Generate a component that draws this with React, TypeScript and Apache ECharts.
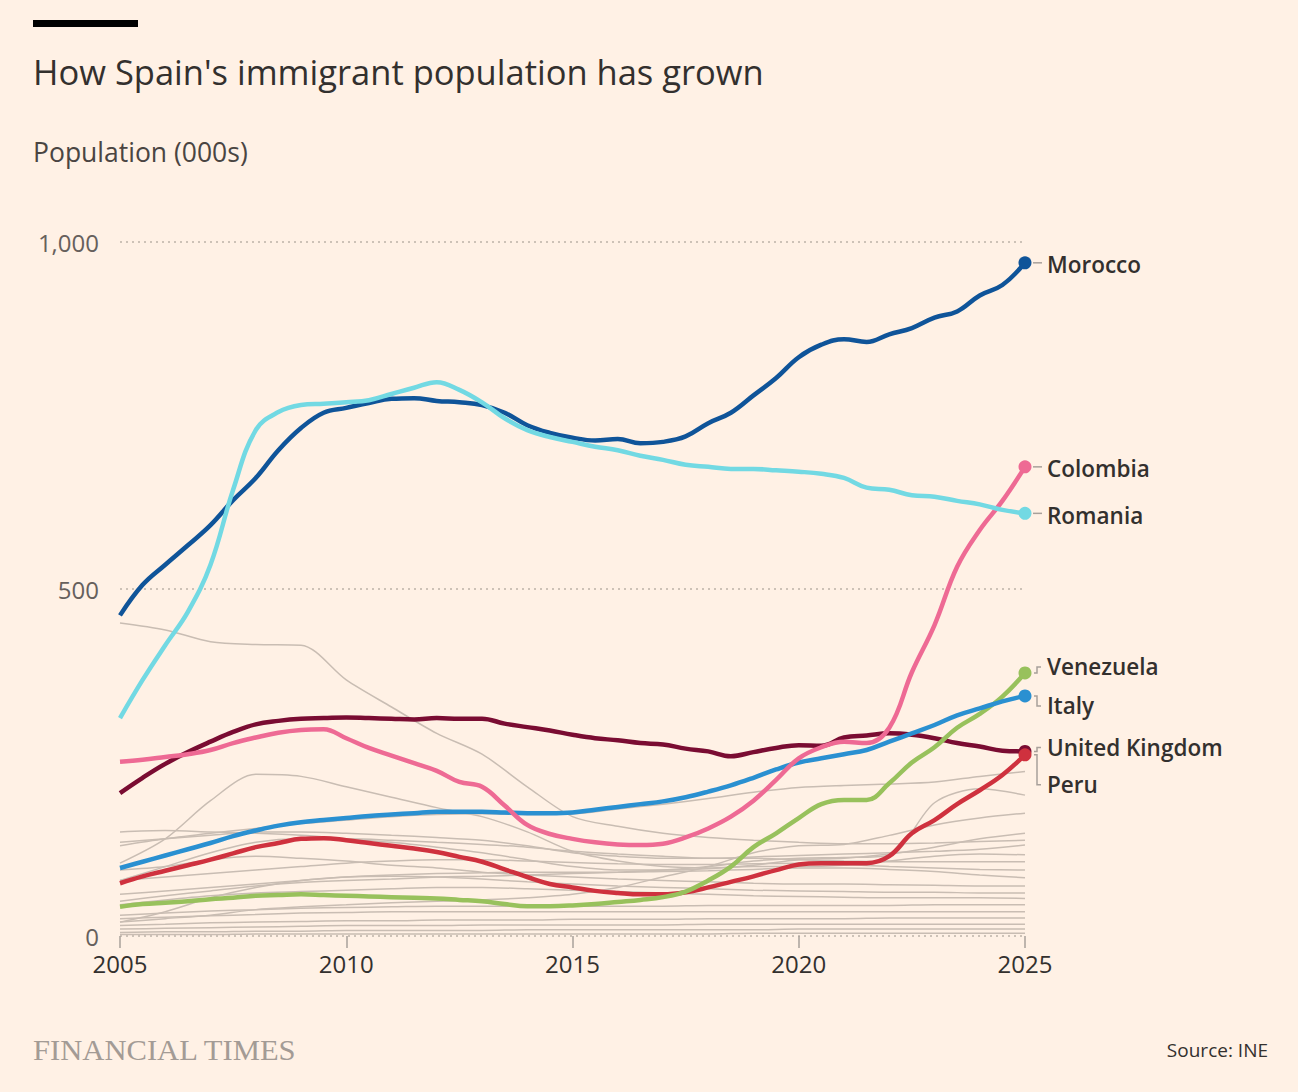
import React, { useEffect, useRef } from 'react';
import * as echarts from 'echarts';

// x positions: half-yearly for the highlighted countries, yearly for the grey ones
const halfYears = Array.from({ length: 41 }, (_, i) => 2005 + i * 0.5);
const years = Array.from({ length: 21 }, (_, i) => 2005 + i);

const xTicks = [2005, 2010, 2015, 2020, 2025];
const yTicks = [0, 500, 1000];

// population (000s)
const morocco = [462, 506, 535, 563, 592, 628, 660, 700, 732, 754, 761, 768, 774, 775, 771, 769, 765, 754, 736, 725, 718, 714, 716, 710, 712, 720, 739, 754, 779, 804, 834, 852, 860, 856, 867, 876, 891, 900, 923, 938, 970];
const romania = [314, 369, 419, 467, 535, 643, 729, 755, 765, 767, 769, 772, 781, 790, 798, 787, 769, 746, 729, 719, 712, 705, 700, 692, 686, 679, 676, 673, 673, 671, 669, 666, 660, 646, 643, 635, 633, 627, 622, 614, 609];
const colombia = [251, 254, 258, 262, 268, 278, 286, 293, 297, 298, 285, 271, 260, 249, 238, 222, 215, 188, 160, 147, 140, 135, 132, 131, 133, 142, 155, 172, 195, 225, 256, 272, 280, 278, 300, 380, 448, 532, 585, 627, 676];
const venezuela = [42, 46, 48, 50, 53, 55, 58, 59, 60, 59, 58, 57, 56, 55, 54, 52, 50, 46, 43, 43, 44, 46, 49, 52, 56, 64, 80, 100, 128, 148, 170, 190, 196, 196, 220, 250, 272, 300, 320, 345, 379];
const italy = [98, 107, 116, 125, 134, 144, 152, 159, 164, 167, 170, 173, 175, 177, 179, 179, 179, 178, 177, 177, 178, 182, 186, 190, 194, 200, 208, 217, 228, 240, 250, 256, 262, 268, 280, 292, 304, 318, 328, 338, 346];
const unitedKingdom = [206, 228, 248, 265, 280, 294, 305, 310, 313, 314, 315, 314, 313, 312, 314, 313, 313, 306, 301, 296, 290, 285, 282, 278, 276, 270, 266, 259, 265, 271, 275, 274, 286, 289, 292, 290, 285, 278, 273, 267, 266];
const peru = [76, 86, 94, 102, 110, 119, 128, 134, 140, 141, 138, 134, 130, 126, 121, 114, 107, 96, 85, 75, 70, 65, 62, 60, 60, 63, 70, 78, 86, 95, 103, 105, 105, 105, 115, 148, 167, 190, 210, 232, 261];

// other countries (grey), yearly
const others = [
  [451, 441, 424, 420, 419, 369, 330, 292, 262, 215, 172, 158, 148, 142, 138, 135, 133, 133, 134, 136, 138],
  [105, 140, 195, 233, 230, 215, 200, 185, 172, 150, 122, 108, 100, 98, 100, 100, 102, 108, 115, 118, 117],
  [130, 140, 148, 155, 162, 167, 172, 175, 176, 175, 176, 183, 190, 198, 207, 214, 217, 219, 222, 230, 237],
  [50, 58, 65, 72, 77, 80, 82, 85, 86, 88, 90, 92, 95, 100, 108, 112, 113, 116, 192, 212, 203],
  [20, 25, 30, 38, 42, 45, 48, 50, 52, 55, 60, 70, 85, 100, 120, 130, 132, 145, 160, 170, 177],
  [150, 152, 150, 148, 145, 140, 135, 128, 120, 110, 100, 95, 95, 97, 102, 110, 112, 118, 128, 140, 148],
  [135, 140, 145, 150, 150, 148, 145, 142, 138, 130, 120, 115, 112, 112, 114, 116, 118, 120, 122, 125, 131],
  [80, 100, 120, 135, 140, 140, 138, 135, 132, 128, 122, 118, 115, 112, 112, 110, 108, 107, 107, 107, 107],
  [80, 85, 90, 95, 100, 105, 108, 110, 110, 108, 106, 104, 103, 103, 104, 105, 103, 100, 98, 96, 95],
  [60, 65, 70, 75, 80, 85, 88, 90, 91, 92, 92, 92, 93, 94, 96, 98, 98, 96, 93, 88, 84],
  [95, 100, 110, 115, 112, 108, 102, 98, 92, 88, 85, 82, 80, 78, 76, 75, 75, 74, 73, 72, 72],
  [20, 35, 55, 70, 80, 85, 86, 85, 82, 78, 75, 72, 70, 68, 66, 65, 64, 63, 63, 62, 62],
  [45, 52, 58, 62, 64, 66, 68, 70, 70, 68, 66, 64, 62, 60, 58, 57, 56, 55, 55, 55, 54],
  [30, 33, 36, 38, 40, 41, 42, 43, 43, 43, 43, 43, 43, 44, 44, 44, 44, 44, 45, 45, 45],
  [25, 27, 29, 31, 33, 34, 35, 35, 35, 35, 35, 35, 35, 35, 35, 35, 35, 35, 35, 35, 35],
  [15, 17, 19, 20, 21, 22, 22, 23, 23, 23, 24, 24, 24, 25, 25, 25, 25, 26, 26, 26, 26],
  [10, 11, 12, 13, 14, 15, 15, 15, 16, 16, 16, 16, 16, 17, 17, 17, 17, 17, 17, 17, 17],
  [5, 6, 6, 7, 7, 8, 8, 8, 8, 9, 9, 9, 9, 9, 9, 10, 10, 10, 10, 10, 10],
  [2, 2, 2, 3, 3, 3, 3, 3, 3, 3, 3, 3, 3, 3, 4, 4, 4, 4, 4, 4, 4],
];

const highlighted = [
  { name: 'United Kingdom', color: '#7a0c32', values: unitedKingdom, dy: -4 },
  { name: 'Peru', color: '#cf313e', values: peru, dy: 30 },
  { name: 'Venezuela', color: '#98c15c', values: venezuela, dy: -6 },
  { name: 'Italy', color: '#2a90d1', values: italy, dy: 10 },
  { name: 'Colombia', color: '#ee6a94', values: colombia, dy: 2 },
  { name: 'Morocco', color: '#0f5499', values: morocco, dy: 2 },
  { name: 'Romania', color: '#72d9e3', values: romania, dy: 2 },
];

const FONT = '"Open Sans", Lato, sans-serif';
const INK = '#33302e';

const App = () => {
  const chartRef = useRef<HTMLDivElement>(null);

  useEffect(() => {
    document.body.style.margin = '0';
    if (!chartRef.current) return;
    const chart = echarts.init(chartRef.current, null, { renderer: 'svg' });
    const last = halfYears.length - 1;

    const greySeries = others.map((vals, i) => ({
      name: 'other' + i,
      type: 'line',
      silent: true,
      symbol: 'none',
      smooth: 0.3,
      lineStyle: { color: '#c9bdb3', width: 1.5 },
      z: 1,
      data: vals.map((v, j) => [years[j], v]),
    }));

    const mainSeries = highlighted.map((s, i) => ({
      name: s.name,
      type: 'line',
      silent: true,
      smooth: 0.4,
      symbol: 'circle',
      showSymbol: true,
      showAllSymbol: true,
      symbolSize: (_v: any, p: any) => (p.dataIndex === last ? 13 : 0),
      itemStyle: { color: s.color },
      lineStyle: { color: s.color, width: 4.5 },
      z: 2 + i,
      data: s.values.map((v, j) => [halfYears[j], v]),
    }));

    const option: any = {
      animation: false,
      backgroundColor: '#fff1e5',
      tooltip: { show: false },
      grid: { left: 120, right: 273, top: 242, bottom: 156 },
      xAxis: {
        type: 'value',
        min: xTicks[0],
        max: xTicks[xTicks.length - 1],
        interval: 5,
        axisLine: { show: false },
        axisTick: { show: true, length: 12, lineStyle: { color: '#a8a09a', width: 1.5 } },
        splitLine: { show: false },
        axisLabel: { fontSize: 24, color: INK, fontFamily: FONT, margin: 15, formatter: (v: number) => String(v) },
      },
      yAxis: {
        type: 'value',
        min: yTicks[0],
        max: yTicks[yTicks.length - 1],
        interval: 500,
        axisLine: { show: false },
        axisTick: { show: false },
        axisLabel: {
          fontSize: 24,
          color: '#66605c',
          fontFamily: FONT,
          margin: 21,
          formatter: (v: number) => v.toLocaleString('en-US'),
        },
        splitLine: { lineStyle: { type: [2, 4], color: '#bdb2a8', width: 1.5 } },
      },
      series: [...greySeries, ...mainSeries],
    };

    chart.setOption(option);

    const labels: any[] = [];
    highlighted.forEach((s) => {
      const [px, py] = chart.convertToPixel({ gridIndex: 0 }, [halfYears[last], s.values[last]]);
      const ly = py + s.dy;
      const conn =
        Math.abs(s.dy) <= 3
          ? [[px + 8, py], [px + 17, py]]
          : [[px + 9, py], [px + 12, py], [px + 12, ly], [px + 16, ly]];
      labels.push({
        type: 'polyline',
        shape: { points: conn },
        style: { stroke: '#a8a09a', lineWidth: 1.5, fill: null },
        silent: true,
      });
      labels.push({
        type: 'text',
        x: px + 22,
        y: ly,
        style: { text: s.name, fontSize: 22.5, fontWeight: 600, fontFamily: FONT, fill: INK, verticalAlign: 'middle' },
        silent: true,
      });
    });

    chart.setOption({
      graphic: {
        elements: [
          { type: 'rect', shape: { x: 33, y: 20, width: 105, height: 7 }, style: { fill: '#000' } },
          {
            type: 'text',
            x: 33,
            y: 71,
            style: { text: "How Spain's immigrant population has grown", fontSize: 34.5, fontFamily: FONT, fill: INK, verticalAlign: 'middle' },
          },
          {
            type: 'text',
            x: 33,
            y: 152,
            style: { text: 'Population (000s)', fontSize: 26.5, fontFamily: FONT, fill: '#4a4542', verticalAlign: 'middle' },
          },
          {
            type: 'text',
            x: 33,
            y: 1050,
            scaleX: 1.02,
            style: { text: 'FINANCIAL TIMES', fontSize: 30, fontFamily: '"Liberation Serif", serif', fill: '#a39b95', verticalAlign: 'middle' },
          },
          {
            type: 'text',
            x: 1268,
            y: 1050,
            style: { text: 'Source: INE', fontSize: 19, fontFamily: FONT, fill: INK, align: 'right', verticalAlign: 'middle' },
          },
          ...labels,
        ],
      },
    });

    return () => {
      chart.dispose();
    };
  }, []);

  return <div ref={chartRef} style={{ width: 1298, height: 1092 }}></div>;
};

export default App;
